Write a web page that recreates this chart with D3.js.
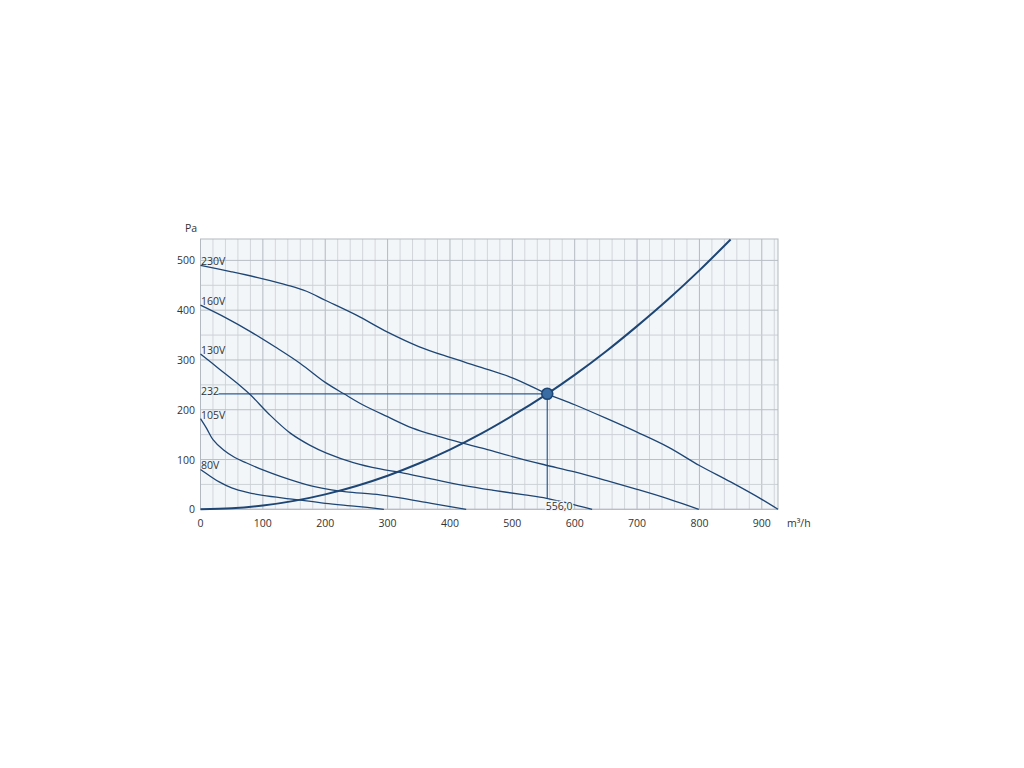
<!DOCTYPE html>
<html><head><meta charset="utf-8">
<script src="https://cdn.jsdelivr.net/npm/d3@7/dist/d3.min.js"></script>
<style>
html,body{margin:0;padding:0;background:#fff;}
text{font-family:"Open Sans","Noto Sans",sans-serif;}
</style></head>
<body><svg id="c" width="1024" height="768"></svg>
<script>
const xTicks = [0,100,200,300,400,500,600,700,800,900];
const yTicks = [0,100,200,300,400,500];
const curveNames = ["230V","160V","130V","105V","80V"];
const curve230 = [[0,490],[50,477],[100,463],[140,450],[170,438],[200,420],[250,390],[300,356],[350,327],[400,305],[450,285],[500,264],[556,232],[600,210],[650,183],[700,155],[750,125],[800,88],[850,55],[900,20],[926,0]];
const curve160 = [[0,410],[40,385],[80,357],[120,326],[160,293],[200,255],[230,232],[260,210],[300,186],[340,163],[380,147],[420,133],[460,120],[500,106],[550,90],[600,75],[650,58],[700,40],[750,21],[799,0]];
const curve130 = [[0,312],[30,282],[60,252],[80,230],[110,191],[144,153],[175,129],[202,113],[245,94],[288,81],[320,74],[370,61],[421,48],[470,38],[520,29],[555,22],[590,12],[628,0]];
const curve105 = [[0,182],[10,162],[20,140],[37,119],[55,104],[74,93],[100,79],[128,66],[155,55],[181,46],[210,39],[234,35],[288,29],[320,23],[370,12],[426,0]];
const curve80 = [[0,80],[15,67],[30,55],[50,43],[75,34],[100,28],[150,20],[200,12],[250,6],[294,0]];
const systemCurve = [[0,0],[50,1.9],[100,7.5],[150,16.9],[200,30],[250,46.9],[300,67.5],[350,92],[400,120],[450,152],[500,188],[556,232],[600,270],[650,317],[700,368],[750,422],[800,480],[850,542]];
const opFlow = 556.0, opPressure = 232;
const allCurves = [curve230, curve160, curve130, curve105, curve80];

const svg = d3.select("#c");
const x = d3.scaleLinear().domain([0,926]).range([200.5,778]);
const y = d3.scaleLinear().domain([0,543]).range([509.3,239]);
const navy = "#1d4675";

svg.append("rect").attr("x",x(0)).attr("y",y(543)).attr("width",x(926)-x(0)).attr("height",y(0)-y(543)).attr("fill","#f3f6f9");

const g = svg.append("g");
g.selectAll(".vg").data(d3.range(0,921,20)).enter().append("line")
 .attr("x1",d=>x(d)).attr("x2",d=>x(d)).attr("y1",y(0)).attr("y2",y(543))
 .attr("stroke",d=>d%100===0?"#b3b9c0":"#d2d6db").attr("stroke-width",1);
g.selectAll(".hg").data(d3.range(0,501,50)).enter().append("line")
 .attr("x1",x(0)).attr("x2",x(926)).attr("y1",d=>y(d)).attr("y2",d=>y(d))
 .attr("stroke",d=>d%100===0?"#b9bfc6":"#ccd1d6").attr("stroke-width",1);
svg.append("rect").attr("x",x(0)).attr("y",y(543)).attr("width",x(926)-x(0)).attr("height",y(0)-y(543)).attr("fill","none").attr("stroke","#b3b9c0");

svg.selectAll(".xt").data(xTicks).enter().append("text")
 .attr("x",d=>x(d)).attr("y",527).attr("text-anchor","middle").attr("font-size",10.5).attr("fill","#333").text(d=>d);
svg.selectAll(".yt").data(yTicks).enter().append("text")
 .attr("x",195).attr("y",d=>y(d)+4).attr("text-anchor","end").attr("font-size",10.5).attr("fill","#333").text(d=>d);
svg.append("text").attr("x",185).attr("y",232).attr("font-size",10.5).attr("fill","#333").text("Pa");
svg.append("text").attr("x",787).attr("y",527).attr("font-size",10.5).attr("fill","#333").text("m³/h");

const line = d3.line().x(d=>x(d[0])).y(d=>y(d[1])).curve(d3.curveCatmullRom.alpha(0.5));

svg.append("line").attr("x1",x(29)).attr("x2",x(opFlow)).attr("y1",y(opPressure)).attr("y2",y(opPressure)).attr("stroke","#2c5d93").attr("stroke-width",1.2);
svg.append("line").attr("x1",x(opFlow)).attr("x2",x(opFlow)).attr("y1",y(opPressure)).attr("y2",y(22)).attr("stroke","#2c5d93").attr("stroke-width",1.2);

allCurves.forEach(c=>{
 svg.append("path").attr("d",line(c)).attr("fill","none").attr("stroke",navy).attr("stroke-width",1.3);
});
svg.append("path").attr("d",line(systemCurve)).attr("fill","none").attr("stroke",navy).attr("stroke-width",2);

svg.selectAll(".cl").data(allCurves).enter().append("text")
 .attr("x",x(0)+0.5).attr("y",d=>y(d[0][1])).attr("font-size",10.5).attr("fill","#333").text((d,i)=>curveNames[i]);
svg.append("text").attr("x",x(0)+0.5).attr("y",y(opPressure)+1.5).attr("font-size",10.5).attr("fill","#333").text(opPressure);
svg.append("text").attr("x",x(opFlow)-1.5).attr("y",y(0)+1).attr("font-size",10.5).attr("fill","#333")
 .attr("stroke","#f3f6f9").attr("stroke-width",2.5).attr("paint-order","stroke").text(opFlow.toFixed(1).replace(".",","));

svg.append("circle").attr("cx",x(opFlow)).attr("cy",y(opPressure)).attr("r",5.5).attr("fill","#3a6da4").attr("stroke",navy).attr("stroke-width",1.6);
</script></body></html>
